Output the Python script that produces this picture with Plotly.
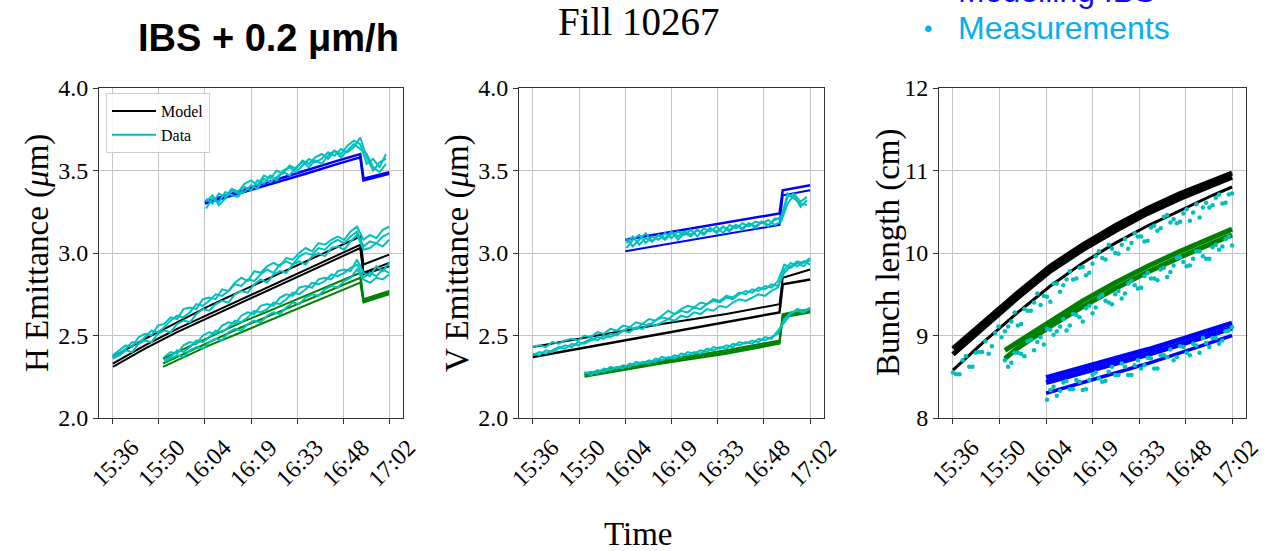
import plotly.graph_objects as go

# ---------------- data ----------------
tick_vals = [0, 14.33, 28.67, 43, 57.33, 71.67, 86]          # minutes after 15:36
tick_text = ["15:36", "15:50", "16:04", "16:19", "16:33", "16:48", "17:02"]
emit_ticks = [2.0, 2.5, 3.0, 3.5, 4.0]
emit_ticktext = ["2.0", "2.5", "3.0", "3.5", "4.0"]
bl_ticks = [8, 9, 10, 11, 12]
bl_ticktext = ["8", "9", "10", "11", "12"]

t_full = list(range(0, 87, 2))     # 15:36 -> 17:02
t_from16 = list(range(16, 87, 2))
t_from29 = list(range(29, 86, 2))
t_odd1 = list(range(1, 86, 2))
t_odd17 = list(range(17, 86, 2))
t_even30 = list(range(30, 87, 2))

# ---- H emittance: model ----
h_t_black = [0, 10, 20, 30, 40, 50, 60, 70, 77, 78, 86]
h_black1 = [2.37, 2.48, 2.58, 2.68, 2.77, 2.86, 2.95, 3.04, 3.10, 2.93, 2.99]
h_black2 = [2.33, 2.44, 2.54, 2.63, 2.72, 2.81, 2.90, 2.99, 3.05, 2.88, 2.94]
h_black3 = [2.31, 2.42, 2.52, 2.61, 2.70, 2.79, 2.88, 2.97, 3.03, 2.87, 2.92]
h_t_green = [15.6, 20, 30, 40, 50, 60, 70, 77, 78, 86]
h_green1 = [2.36, 2.40, 2.49, 2.58, 2.66, 2.74, 2.82, 2.88, 2.72, 2.77]
h_green2 = [2.33, 2.37, 2.46, 2.55, 2.63, 2.71, 2.79, 2.85, 2.71, 2.76]
h_green3 = [2.31, 2.35, 2.44, 2.52, 2.60, 2.68, 2.76, 2.82, 2.70, 2.75]
h_t_blue = [28.7, 40, 50, 60, 70, 77, 78, 86]
h_blue1 = [3.31, 3.38, 3.44, 3.50, 3.56, 3.60, 3.45, 3.49]
h_blue2 = [3.30, 3.365, 3.42, 3.48, 3.54, 3.58, 3.44, 3.48]

# ---- H emittance: data ----
h_data_b1 = [2.38, 2.41, 2.44, 2.43, 2.49, 2.51, 2.50, 2.56, 2.57, 2.61,
             2.60, 2.66, 2.67, 2.66, 2.72, 2.73, 2.72, 2.78, 2.77, 2.82,
             2.85, 2.83, 2.89, 2.88, 2.92, 2.94, 2.92, 2.97, 2.96, 3.00,
             3.03, 3.01, 3.06, 3.05, 3.08, 3.10, 3.08, 3.13, 3.16, 3.08,
             3.11, 3.09, 3.14, 3.16]
h_data_b2 = [2.37, 2.39, 2.42, 2.46, 2.45, 2.49, 2.53, 2.52, 2.55, 2.59,
             2.62, 2.61, 2.64, 2.69, 2.68, 2.71, 2.75, 2.74, 2.77, 2.81,
             2.80, 2.84, 2.83, 2.87, 2.90, 2.88, 2.93, 2.95, 2.93, 2.98,
             3.00, 2.99, 3.03, 3.02, 3.06, 3.08, 3.06, 3.10, 3.13, 3.04,
             3.07, 3.06, 3.10, 3.12]
h_data_b3 = [2.36, 2.38, 2.41, 2.40, 2.45, 2.47, 2.46, 2.51, 2.53, 2.52,
             2.57, 2.59, 2.58, 2.63, 2.66, 2.65, 2.69, 2.71, 2.70, 2.75,
             2.77, 2.76, 2.81, 2.84, 2.82, 2.87, 2.89, 2.88, 2.93, 2.95,
             2.93, 2.98, 3.00, 2.98, 3.03, 3.04, 3.02, 3.07, 3.11, 3.02,
             3.03, 3.06, 3.04, 3.08]
h_data_c1 = [2.37, 2.40, 2.39, 2.44, 2.46, 2.45, 2.50, 2.52, 2.51, 2.56,
             2.58, 2.57, 2.62, 2.64, 2.63, 2.68, 2.69, 2.68, 2.73, 2.75,
             2.74, 2.79, 2.80, 2.79, 2.84, 2.85, 2.84, 2.89, 2.90, 2.89,
             2.96, 2.88, 2.86, 2.92, 2.89, 2.94]
h_data_c2 = [2.35, 2.37, 2.41, 2.40, 2.43, 2.47, 2.46, 2.49, 2.53, 2.52,
             2.55, 2.59, 2.58, 2.61, 2.65, 2.64, 2.66, 2.70, 2.69, 2.72,
             2.76, 2.75, 2.78, 2.82, 2.81, 2.83, 2.87, 2.86, 2.88, 2.91,
             2.93, 2.85, 2.88, 2.86, 2.90, 2.88]
h_data_c3 = [2.34, 2.36, 2.38, 2.37, 2.41, 2.43, 2.42, 2.46, 2.48, 2.47,
             2.52, 2.54, 2.53, 2.57, 2.59, 2.58, 2.62, 2.64, 2.63, 2.67,
             2.70, 2.69, 2.73, 2.75, 2.74, 2.78, 2.80, 2.79, 2.83, 2.85,
             2.90, 2.84, 2.82, 2.85, 2.84, 2.87]
h_data_a1 = [3.33, 3.30, 3.36, 3.34, 3.39, 3.37, 3.42, 3.44, 3.41, 3.47,
             3.45, 3.50, 3.48, 3.53, 3.51, 3.56, 3.54, 3.58, 3.60, 3.57,
             3.62, 3.60, 3.65, 3.68, 3.66, 3.54, 3.57, 3.52, 3.60]
h_data_a2 = [3.27, 3.33, 3.31, 3.37, 3.35, 3.34, 3.40, 3.38, 3.44, 3.42,
             3.47, 3.44, 3.50, 3.52, 3.49, 3.53, 3.57, 3.55, 3.57, 3.61,
             3.59, 3.63, 3.61, 3.64, 3.70, 3.58, 3.50, 3.55, 3.57]
h_data_a3 = [3.31, 3.35, 3.29, 3.33, 3.38, 3.36, 3.37, 3.41, 3.39, 3.45,
             3.43, 3.46, 3.49, 3.47, 3.52, 3.55, 3.52, 3.56, 3.54, 3.59,
             3.62, 3.58, 3.62, 3.66, 3.63, 3.60, 3.52, 3.49, 3.54]

# ---- V emittance: model ----
v_t_black = [0, 20, 40, 60, 76.5, 77.5, 86]
v_black1 = [2.43, 2.50, 2.57, 2.63, 2.69, 2.85, 2.90]
v_black2 = [2.37, 2.44, 2.51, 2.58, 2.64, 2.81, 2.84]
v_t_green = [16, 40, 60, 76.5, 77.5, 86]
v_green1 = [2.27, 2.35, 2.41, 2.47, 2.63, 2.66]
v_green2 = [2.26, 2.34, 2.40, 2.46, 2.62, 2.65]
v_green3 = [2.25, 2.33, 2.39, 2.45, 2.61, 2.64]
v_t_blue = [28.7, 50, 76.5, 77.5, 86]
v_blue1 = [3.08, 3.15, 3.24, 3.38, 3.41]
v_blue2 = [3.01, 3.08, 3.17, 3.35, 3.38]

# ---- V emittance: data ----
v_data_b1 = [2.43, 2.44, 2.43, 2.46, 2.45, 2.47, 2.48, 2.47, 2.50, 2.49,
             2.52, 2.51, 2.54, 2.53, 2.56, 2.55, 2.58, 2.57, 2.60, 2.59,
             2.62, 2.65, 2.63, 2.66, 2.68, 2.67, 2.70, 2.69, 2.72, 2.71,
             2.74, 2.73, 2.76, 2.75, 2.78, 2.77, 2.80, 2.79, 2.83, 2.93,
             2.91, 2.94, 2.92, 2.96]
v_data_b2 = [2.38, 2.40, 2.39, 2.41, 2.43, 2.42, 2.45, 2.44, 2.46, 2.48,
             2.47, 2.50, 2.49, 2.51, 2.53, 2.52, 2.55, 2.54, 2.57, 2.56,
             2.58, 2.60, 2.59, 2.62, 2.61, 2.64, 2.63, 2.66, 2.65, 2.68,
             2.67, 2.70, 2.72, 2.71, 2.73, 2.75, 2.74, 2.77, 2.79, 2.90,
             2.94, 2.92, 2.95, 2.93]
v_data_b3 = [2.39, 2.38, 2.41, 2.40, 2.42, 2.44, 2.43, 2.46, 2.45, 2.47,
             2.49, 2.48, 2.51, 2.50, 2.53, 2.55, 2.54, 2.57, 2.56, 2.59,
             2.61, 2.60, 2.63, 2.65, 2.64, 2.67, 2.66, 2.69, 2.71, 2.70,
             2.73, 2.72, 2.75, 2.77, 2.76, 2.79, 2.78, 2.81, 2.80, 2.88,
             2.92, 2.95, 2.94, 2.97]
v_data_c1 = [2.27, 2.28, 2.27, 2.30, 2.29, 2.31, 2.30, 2.33, 2.32, 2.34,
             2.33, 2.36, 2.35, 2.37, 2.36, 2.39, 2.38, 2.40, 2.39, 2.42,
             2.41, 2.43, 2.42, 2.45, 2.44, 2.46, 2.45, 2.48, 2.47, 2.49,
             2.51, 2.60, 2.64, 2.65, 2.64, 2.67]
v_data_c2 = [2.28, 2.26, 2.29, 2.28, 2.31, 2.30, 2.32, 2.31, 2.34, 2.33,
             2.35, 2.34, 2.37, 2.36, 2.38, 2.37, 2.40, 2.39, 2.41, 2.40,
             2.43, 2.42, 2.44, 2.43, 2.46, 2.45, 2.47, 2.46, 2.49, 2.48,
             2.53, 2.58, 2.63, 2.66, 2.65, 2.66]
v_data_a1 = [3.06, 3.10, 3.05, 3.09, 3.07, 3.11, 3.08, 3.12, 3.10, 3.13,
             3.11, 3.14, 3.12, 3.15, 3.13, 3.16, 3.14, 3.17, 3.15, 3.18,
             3.16, 3.19, 3.17, 3.20, 3.22, 3.34, 3.36, 3.31, 3.34]
v_data_a2 = [3.03, 3.08, 3.11, 3.06, 3.10, 3.08, 3.12, 3.09, 3.13, 3.11,
             3.14, 3.10, 3.15, 3.13, 3.16, 3.12, 3.17, 3.15, 3.18, 3.16,
             3.19, 3.18, 3.20, 3.17, 3.19, 3.30, 3.35, 3.28, 3.32]
v_data_a3 = [3.09, 3.04, 3.08, 3.12, 3.07, 3.11, 3.09, 3.13, 3.08, 3.12,
             3.10, 3.14, 3.11, 3.15, 3.12, 3.16, 3.13, 3.17, 3.14, 3.18,
             3.15, 3.19, 3.16, 3.21, 3.20, 3.36, 3.33, 3.30, 3.29]

# ---- Bunch length: model ----
b_t_black = [0, 10, 20, 30, 40, 50, 60, 70, 80, 86]
b_black_top1 = [8.84, 9.19, 9.52, 9.84, 10.10, 10.33, 10.54, 10.72, 10.88, 10.97]
b_black_top2 = [8.77, 9.12, 9.46, 9.78, 10.04, 10.27, 10.48, 10.66, 10.83, 10.92]
b_black_low = [8.58, 8.94, 9.28, 9.60, 9.88, 10.12, 10.33, 10.52, 10.70, 10.80]
b_t_green = [16, 20, 30, 40, 50, 60, 70, 80, 86]
b_green_top = [8.82, 8.92, 9.18, 9.42, 9.64, 9.84, 10.02, 10.19, 10.29]
b_green_low = [8.72, 8.85, 9.11, 9.35, 9.57, 9.77, 9.95, 10.12, 10.22]
b_t_blue = [28.7, 40, 50, 60, 70, 80, 86]
b_blue_top1 = [8.49, 8.61, 8.72, 8.83, 8.95, 9.07, 9.15]
b_blue_top2 = [8.43, 8.55, 8.66, 8.77, 8.89, 9.01, 9.09]
b_blue_low = [8.30, 8.43, 8.54, 8.66, 8.79, 8.92, 9.00]

# ---- Bunch length: measurements (points) ----
b_meas_black_even = [8.55, 8.53, 8.75, 8.62, 8.80, 8.93, 8.87, 9.11, 9.05, 9.17,
                     9.12, 9.32, 9.30, 9.51, 9.48, 9.41, 9.63, 9.61, 9.78, 9.69,
                     9.83, 9.76, 9.96, 9.94, 10.10, 10.00, 10.10, 10.05, 10.24, 10.20,
                     10.15, 10.33, 10.30, 10.46, 10.41, 10.38, 10.53, 10.49, 10.43, 10.61,
                     10.58, 10.71, 10.61, 10.72]
b_meas_black_odd = [8.53, 8.70, 8.62, 8.79, 8.80, 8.78, 9.03, 8.98, 9.11, 9.28,
                    9.14, 9.30, 9.40, 9.37, 9.47, 9.63, 9.53, 9.68, 9.68, 9.82,
                    9.73, 9.87, 10.02, 9.92, 10.05, 9.99, 10.17, 10.12, 10.20, 10.14,
                    10.31, 10.27, 10.44, 10.37, 10.36, 10.48, 10.39, 10.59, 10.55, 10.55,
                    10.67, 10.60, 10.71]
b_meas_green_even = [8.70, 8.67, 8.79, 8.75, 8.95, 8.92, 8.89, 9.07, 9.05, 9.20,
                     9.12, 9.25, 9.17, 9.36, 9.34, 9.49, 9.40, 9.50, 9.45, 9.63,
                     9.61, 9.58, 9.76, 9.69, 9.80, 9.71, 9.85, 9.95, 9.84, 9.93,
                     10.02, 9.93, 10.07, 10.04, 10.17, 10.09]
b_meas_green_odd = [8.62, 8.79, 8.78, 8.93, 8.82, 8.98, 9.08, 9.01, 9.11, 9.06,
                    9.26, 9.22, 9.33, 9.27, 9.46, 9.42, 9.38, 9.54, 9.51, 9.66,
                    9.57, 9.72, 9.69, 9.67, 9.82, 9.77, 9.94, 9.89, 9.85, 10.02,
                    9.96, 9.93, 10.10, 10.08, 10.20]
b_meas_blue_odd = [8.22, 8.38, 8.33, 8.45, 8.35, 8.44, 8.35, 8.52, 8.48, 8.45,
                   8.62, 8.52, 8.62, 8.52, 8.70, 8.64, 8.72, 8.60, 8.76, 8.83,
                   8.74, 8.86, 8.76, 8.88, 8.97, 8.86, 8.97, 8.94, 9.06]
b_meas_blue_even = [8.34, 8.27, 8.43, 8.35, 8.46, 8.34, 8.46, 8.55, 8.44, 8.56,
                    8.52, 8.66, 8.52, 8.64, 8.60, 8.73, 8.60, 8.76, 8.74, 8.70,
                    8.87, 8.79, 8.90, 8.79, 8.91, 8.97, 8.90, 9.05, 9.10]

# ---------------- styling ----------------
BLACK, GREEN, BLUE, CYAN = "#000000", "#008000", "#0000ff", "#00bfbf"
SERIF = "Liberation Serif"
SANS = "Liberation Sans"
W, H = 1273, 551

fig = go.Figure()


def line(x, y, color, width, ax, name=None, show=False):
    fig.add_trace(go.Scatter(
        x=x, y=y, mode="lines", line=dict(color=color, width=width),
        xaxis="x" + ax, yaxis="y" + ax, name=name, showlegend=show,
        hoverinfo="skip"))


def dots(x, y, ax):
    fig.add_trace(go.Scatter(
        x=x, y=y, mode="markers", marker=dict(color=CYAN, size=4.5),
        xaxis="x" + ax, yaxis="y" + ax, showlegend=False, hoverinfo="skip"))


# panel 1 models
line(h_t_black, h_black1, BLACK, 2, "", "Model", True)
line(h_t_black, h_black2, BLACK, 2, "")
line(h_t_black, h_black3, BLACK, 2, "")
line(h_t_green, h_green1, GREEN, 2, "")
line(h_t_green, h_green2, GREEN, 2, "")
line(h_t_green, h_green3, GREEN, 2, "")
line(h_t_blue, h_blue1, BLUE, 2.5, "")
line(h_t_blue, h_blue2, BLUE, 2.5, "")
# panel 1 data
line(t_full, h_data_b1, CYAN, 2, "", "Data", True)
line(t_full, h_data_b2, CYAN, 2, "")
line(t_full, h_data_b3, CYAN, 2, "")
line(t_from16, h_data_c1, CYAN, 2, "")
line(t_from16, h_data_c2, CYAN, 2, "")
line(t_from16, h_data_c3, CYAN, 2, "")
line(t_from29, h_data_a1, CYAN, 2, "")
line(t_from29, h_data_a2, CYAN, 2, "")
line(t_from29, h_data_a3, CYAN, 2, "")

# panel 2 models
line(v_t_black, v_black1, BLACK, 2, "2")
line(v_t_black, v_black2, BLACK, 2.5, "2")
line(v_t_green, v_green1, GREEN, 2, "2")
line(v_t_green, v_green2, GREEN, 2, "2")
line(v_t_green, v_green3, GREEN, 2, "2")
line(v_t_blue, v_blue1, BLUE, 2.5, "2")
line(v_t_blue, v_blue2, BLUE, 2, "2")
# panel 2 data
line(t_full, v_data_b1, CYAN, 2, "2")
line(t_full, v_data_b2, CYAN, 2, "2")
line(t_full, v_data_b3, CYAN, 2, "2")
line(t_from16, v_data_c1, CYAN, 2, "2")
line(t_from16, v_data_c2, CYAN, 2, "2")
line(t_from29, v_data_a1, CYAN, 2, "2")
line(t_from29, v_data_a2, CYAN, 2, "2")
line(t_from29, v_data_a3, CYAN, 2, "2")

# panel 3 models
line(b_t_black, b_black_top1, BLACK, 5, "3")
line(b_t_black, b_black_top2, BLACK, 5, "3")
line(b_t_black, b_black_low, BLACK, 3, "3")
line(b_t_green, b_green_top, GREEN, 5, "3")
line(b_t_green, b_green_low, GREEN, 5, "3")
line(b_t_blue, b_blue_top1, BLUE, 5, "3")
line(b_t_blue, b_blue_top2, BLUE, 5, "3")
line(b_t_blue, b_blue_low, BLUE, 3.5, "3")
# panel 3 measurements
dots(t_full, b_meas_black_even, "3")
dots(t_odd1, b_meas_black_odd, "3")
dots(t_from16, b_meas_green_even, "3")
dots(t_odd17, b_meas_green_odd, "3")
dots(t_from29, b_meas_blue_odd, "3")
dots(t_even30, b_meas_blue_even, "3")

YDOM = [133 / H, 463 / H]
XDOMS = [[99 / W, 403 / W], [519 / W, 824 / W], [939 / W, 1246 / W]]
tickfont = dict(family=SERIF, size=24, color="#000000")

common_x = dict(range=[-4.3, 90.3], tickvals=tick_vals, ticktext=tick_text,
                tickangle=-45, ticklabelshift=19, tickfont=tickfont,
                showgrid=True, gridcolor="#c4c4c4", gridwidth=1,
                showline=True, linecolor="#333333", linewidth=1, mirror=True,
                ticks="outside", ticklen=5, tickcolor="#333333",
                zeroline=False, automargin=False, fixedrange=True)
common_y = dict(tickfont=tickfont, showgrid=True, gridcolor="#c4c4c4", gridwidth=1,
                showline=True, linecolor="#333333", linewidth=1, mirror=True,
                ticks="outside", ticklen=5, tickcolor="#333333",
                zeroline=False, automargin=False, fixedrange=True, domain=YDOM)

layout = dict(
    width=W, height=H, autosize=False, template="none",
    margin=dict(l=0, r=0, t=0, b=0), paper_bgcolor="white", plot_bgcolor="white",
    showlegend=True,
    legend=dict(x=106 / W, y=1 - 93 / H, xanchor="left", yanchor="top",
                font=dict(family=SERIF, size=16, color="#000000"),
                bgcolor="rgba(255,255,255,0.85)", bordercolor="#cccccc", borderwidth=1,
                tracegroupgap=0, itemwidth=44),
)
for i, ax in enumerate(["", "2", "3"]):
    xa = dict(common_x, domain=XDOMS[i], anchor="y" + ax)
    ya = dict(common_y, anchor="x" + ax)
    if i < 2:
        ya.update(range=[2.0, 4.0], tickvals=emit_ticks, ticktext=emit_ticktext)
    else:
        ya.update(range=[8, 12], tickvals=bl_ticks, ticktext=bl_ticktext)
    layout["xaxis" + ax] = xa
    layout["yaxis" + ax] = ya
fig.update_layout(**layout)

ann = []
yc = 1 - 253 / H
for xpx, txt in [(37, "H Emittance (<i>μ</i>m)"), (457, "V Emittance (<i>μ</i>m)"),
                 (888, "Bunch length (cm)")]:
    ann.append(dict(x=xpx / W, y=yc, xref="paper", yref="paper", text=txt, textangle=-90,
                    showarrow=False, xanchor="center", yanchor="middle",
                    font=dict(family=SERIF, size=33, color="#000000")))
ann.append(dict(x=638 / W, y=1 - 534 / H, xref="paper", yref="paper", text="Time",
                showarrow=False, xanchor="center", yanchor="middle",
                font=dict(family=SERIF, size=33, color="#000000")))
ann.append(dict(x=638 / W, y=1 - 22 / H, xref="paper", yref="paper", text="Fill 10267",
                showarrow=False, xanchor="center", yanchor="middle",
                font=dict(family=SERIF, size=39, color="#000000")))
ann.append(dict(x=268 / W, y=1 - 38 / H, xref="paper", yref="paper",
                text="<b>IBS + 0.2 μm/h</b>", showarrow=False, xanchor="center",
                yanchor="middle", font=dict(family=SANS, size=38, color="#000000")))
for yc_px, txt, col in [(-9, "Modelling IBS", "#1010ee"), (28, "Measurements", "#00b0f0")]:
    ann.append(dict(x=928 / W, y=1 - (yc_px + 1) / H, xref="paper", yref="paper", text="•",
                    showarrow=False, xanchor="center", yanchor="middle",
                    font=dict(family=SANS, size=24, color=col)))
    ann.append(dict(x=956 / W, y=1 - yc_px / H, xref="paper", yref="paper", text=txt,
                    showarrow=False, xanchor="left", yanchor="middle",
                    font=dict(family=SANS, size=32, color=col)))
fig.update_layout(annotations=ann)

fig.write_html("out.html")
